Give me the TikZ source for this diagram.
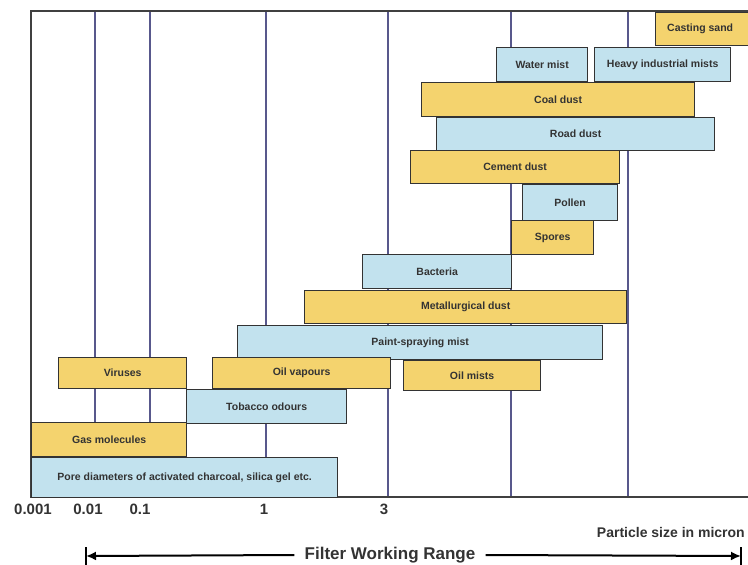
\documentclass[tikz,border=0pt]{standalone}
\usepackage{fontspec}
\setmainfont{Liberation Sans}
\usetikzlibrary{arrows.meta}

\definecolor{sandyellow}{HTML}{F4D36E}
\definecolor{mistblue}{HTML}{C2E2EE}
\definecolor{gridline}{HTML}{58588C}
\definecolor{darktext}{HTML}{333333}

\begin{document}
\begin{tikzpicture}[x=1pt, y=-1pt]
\tikzstyle{bar}=[rectangle, anchor=north west, inner sep=0pt, draw=black!80, line width=1.3pt, text=darktext, font=\fontsize{10.5}{12}\bfseries]
\tikzstyle{ybar}=[bar, fill=sandyellow]
\tikzstyle{bbar}=[bar, fill=mistblue]
\tikzstyle{tick}=[inner sep=0pt, text=darktext, font=\fontsize{15}{16}\bfseries]
\tikzstyle{grid}=[gridline, line width=2pt]
\tikzstyle{frame}=[black!75, line width=2pt]

  \clip (0,0) rectangle (748,565);
  \fill[white] (0,0) rectangle (748,565);

    % frame and size lines
  \draw[grid] (95,11) -- (95,497);
  \draw[grid] (150,11) -- (150,497);
  \draw[grid] (266,11) -- (266,497);
  \draw[grid] (388,11) -- (388,497);
  \draw[grid] (511,11) -- (511,497);
  \draw[grid] (628,11) -- (628,497);
  \draw[frame] (750,11) -- (31,11) -- (31,497) -- (750,497);

    % bars, top to bottom
  \node[ybar, minimum width=97pt, minimum height=33pt] (casting_sand) at (655,12) {\hspace*{-8pt}Casting sand};
  \node[bbar, minimum width=91pt, minimum height=34pt] (water_mist) at (496,47) {Water mist};
  \node[bbar, minimum width=136pt, minimum height=34pt] (heavy_mists) at (594,47) {Heavy industrial mists};
  \node[ybar, minimum width=273pt, minimum height=34pt] (coal_dust) at (421,82) {Coal dust};
  \node[bbar, minimum width=278pt, minimum height=33pt] (road_dust) at (436,117) {Road dust};
  \node[ybar, minimum width=209pt, minimum height=33pt] (cement_dust) at (410,150) {Cement dust};
  \node[bbar, minimum width=95pt, minimum height=36pt] (pollen) at (522,184) {Pollen};
  \node[ybar, minimum width=82pt, minimum height=34pt] (spores) at (511,220) {Spores};
  \node[bbar, minimum width=149pt, minimum height=34pt] (bacteria) at (362,254) {Bacteria};
  \node[ybar, minimum width=322pt, minimum height=33pt] (metal_dust) at (304,290) {Metallurgical dust};
  \node[bbar, minimum width=365pt, minimum height=34pt] (paint_mist) at (237,325) {Paint-spraying mist};
  \node[ybar, minimum width=128pt, minimum height=31pt] (viruses) at (58,357) {Viruses};
  \node[ybar, minimum width=178pt, minimum height=31pt] (oil_vapours) at (212,357) {Oil vapours};
  \node[ybar, minimum width=137pt, minimum height=30pt] (oil_mists) at (403,360) {Oil mists};
  \node[bbar, minimum width=160pt, minimum height=34pt] (tobacco) at (186,389) {Tobacco odours};
  \node[ybar, minimum width=155pt, minimum height=34pt] (gas) at (31,422) {Gas molecules};
  \node[bbar, minimum width=306pt, minimum height=40pt] (pore) at (31,457) {Pore diameters of activated charcoal, silica gel etc.};

    % scale
  \node[tick] (t0001) at (33,509) {0.001};
  \node[tick] (t001) at (88,509) {0.01};
  \node[tick] (t01) at (140,509) {0.1};
  \node[tick] (t1) at (264,509) {1};
  \node[tick] (t3) at (384,509) {3};
  \node[tick, anchor=east, font=\fontsize{14}{16}\bfseries] (unit) at (745,532) {Particle size in micron};

    % working range
  \node[tick, font=\fontsize{17}{18}\bfseries] (range) at (390,555) {Filter Working Range};
  \coordinate (range_l) at (86,556);
  \coordinate (range_r) at (741,556);
  \draw[line width=2pt, -{Latex[length=10pt,width=9pt]}] (range.west) ++(-10pt,0) -- (range_l);
  \draw[line width=2pt, -{Latex[length=10pt,width=9pt]}] (range.east) ++(10pt,0) -- (range_r);
  \draw[line width=1.5pt] (range_l) ++(0,-9) -- ++(0,18);
  \draw[line width=1.5pt] (range_r) ++(0,-9) -- ++(0,18);

\end{tikzpicture}
\end{document}
